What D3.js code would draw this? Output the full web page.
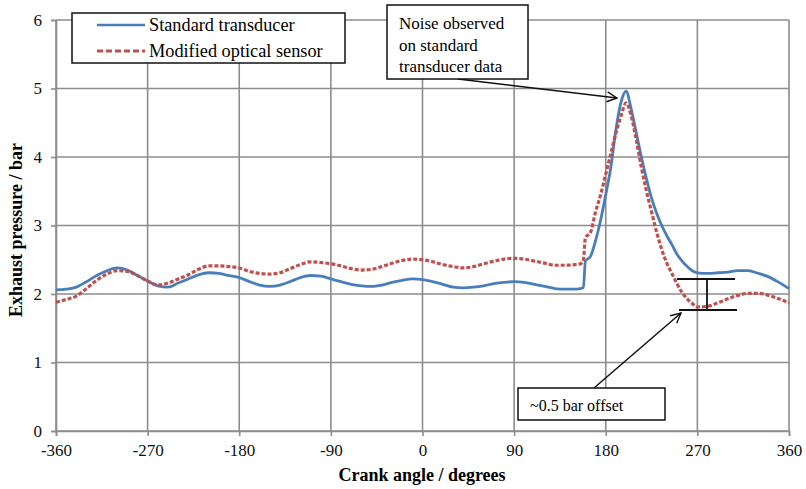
<!DOCTYPE html>
<html><head><meta charset="utf-8">
<script src="https://cdn.jsdelivr.net/npm/d3@7"></script>
<style>body{margin:0;background:#fff}svg{display:block}</style>
</head><body>
<svg id="c" width="806" height="489"></svg>
<script>
const crankAngles = [-360,-350,-340,-330,-320,-310,-300,-290,-280,-270,-260,-250,-240,-230,-220,-210,-200,-190,-180,-170,-160,-150,-140,-130,-120,-110,-100,-90,-80,-70,-60,-50,-40,-30,-20,-10,0,10,20,30,40,50,60,70,80,90,100,110,120,130,140,150,155,158,160,165,170,175,180,185,190,195,200,205,210,215,220,225,230,235,240,245,250,255,260,265,270,280,290,300,310,320,330,340,350,360];
const standardTransducer = [2.06,2.07,2.10,2.18,2.27,2.34,2.38,2.35,2.27,2.19,2.12,2.10,2.16,2.22,2.28,2.31,2.30,2.27,2.24,2.18,2.13,2.11,2.13,2.18,2.24,2.27,2.26,2.22,2.18,2.14,2.12,2.11,2.13,2.17,2.20,2.22,2.21,2.18,2.14,2.10,2.09,2.10,2.12,2.15,2.17,2.18,2.17,2.14,2.11,2.08,2.07,2.07,2.08,2.09,2.48,2.55,2.78,3.08,3.45,3.85,4.40,4.80,4.96,4.70,4.35,4.00,3.68,3.40,3.18,3.00,2.85,2.72,2.58,2.48,2.40,2.34,2.31,2.30,2.31,2.32,2.34,2.34,2.30,2.25,2.17,2.08];
const modifiedOptical = [1.88,1.92,1.97,2.08,2.20,2.29,2.34,2.33,2.27,2.19,2.13,2.16,2.22,2.28,2.36,2.41,2.41,2.40,2.38,2.33,2.30,2.29,2.31,2.37,2.43,2.47,2.46,2.44,2.41,2.37,2.35,2.36,2.40,2.45,2.49,2.51,2.50,2.47,2.43,2.40,2.38,2.40,2.44,2.48,2.51,2.52,2.51,2.48,2.45,2.42,2.42,2.43,2.44,2.50,2.82,2.90,3.20,3.45,3.75,4.05,4.35,4.60,4.79,4.60,4.25,3.85,3.50,3.20,2.90,2.65,2.45,2.30,2.15,2.02,1.93,1.86,1.81,1.82,1.87,1.93,1.98,2.01,2.01,1.98,1.93,1.87];
const xTicks = [-360,-270,-180,-90,0,90,180,270,360];
const yTicks = [0,1,2,3,4,5,6];
const seriesNames = ["Standard transducer","Modified optical sensor"];
const noiseNote = ["Noise observed","on standard","transducer data"];
const offsetNote = "~0.5 bar offset";

const svg = d3.select("#c");
const font = "'Liberation Serif','Times New Roman',serif";
const x = d3.scaleLinear().domain([-360,360]).range([56,789]);
const y = d3.scaleLinear().domain([0,6]).range([431,20]);

// grid
svg.append("g").selectAll("line").data(yTicks).join("line")
  .attr("x1",x(-360)).attr("x2",x(360)).attr("y1",d=>y(d)).attr("y2",d=>y(d))
  .attr("stroke","#8c8c8c").attr("stroke-width",1.6);
svg.append("g").selectAll("line").data(xTicks).join("line")
  .attr("x1",d=>x(d)).attr("x2",d=>x(d)).attr("y1",y(0)).attr("y2",y(6))
  .attr("stroke","#8c8c8c").attr("stroke-width",1.6);

// axes
const xa = svg.append("g").attr("transform",`translate(0,${y(0)})`)
  .call(d3.axisBottom(x).tickValues(xTicks).tickSize(5).tickPadding(8).tickFormat(d=>String(d)));
const ya = svg.append("g").attr("transform",`translate(${x(-360)},0)`)
  .call(d3.axisLeft(y).tickValues(yTicks).tickSize(5).tickPadding(9).tickFormat(d=>String(d)));
[xa,ya].forEach(a=>{
  a.select(".domain").attr("stroke","#8c8c8c").attr("stroke-width",1.6);
  a.selectAll(".tick line").attr("stroke","#8c8c8c").attr("stroke-width",1.6);
  a.selectAll("text").attr("font-family",font).attr("font-size",17).attr("fill","#111");
});

// lines
const pts = (vals)=>crankAngles.map((a,i)=>[a,vals[i]]);
const line = d3.line().x(d=>x(d[0])).y(d=>y(d[1])).curve(d3.curveMonotoneX);
svg.append("path").attr("d",line(pts(standardTransducer))).attr("fill","none")
  .attr("stroke","#4a7ebb").attr("stroke-width",2.8);
svg.append("path").attr("d",line(pts(modifiedOptical))).attr("fill","none")
  .attr("stroke","#c0504d").attr("stroke-width",3.2).attr("stroke-dasharray","4,2");

// axis titles
svg.append("text").attr("x",422).attr("y",481).attr("text-anchor","middle")
  .attr("font-family",font).attr("font-size",18).attr("font-weight","bold").text("Crank angle / degrees");
svg.append("text").attr("transform","translate(22,230) rotate(-90)").attr("text-anchor","middle")
  .attr("font-family",font).attr("font-size",18).attr("font-weight","bold").text("Exhaust pressure / bar");

// legend
const lg = svg.append("g");
lg.append("rect").attr("x",72).attr("y",13).attr("width",273).attr("height",50)
  .attr("fill","#fff").attr("stroke","#111").attr("stroke-width",1.5);
lg.append("line").attr("x1",97).attr("x2",145).attr("y1",25).attr("y2",25)
  .attr("stroke","#4a7ebb").attr("stroke-width",2.6);
lg.append("line").attr("x1",97).attr("x2",145).attr("y1",51).attr("y2",51)
  .attr("stroke","#c0504d").attr("stroke-width",3).attr("stroke-dasharray","6,3");
lg.selectAll("text").data(seriesNames).join("text")
  .attr("x",149).attr("y",(d,i)=>31+i*26).attr("font-family",font).attr("font-size",18.3).text(d=>d);

// arrow marker
const defs = svg.append("defs");
defs.append("marker").attr("id","arr").attr("viewBox","0 0 12 12").attr("refX",11).attr("refY",6)
  .attr("markerWidth",12).attr("markerHeight",12).attr("markerUnits","userSpaceOnUse").attr("orient","auto")
  .append("path").attr("d","M1,1 L11,6 L1,11").attr("fill","none").attr("stroke","#111").attr("stroke-width",1.4);

// annotation 1
svg.append("line").attr("x1",458).attr("y1",79).attr("x2",617).attr("y2",98)
  .attr("stroke","#111").attr("stroke-width",1.5).attr("marker-end","url(#arr)");
svg.append("rect").attr("x",387).attr("y",5).attr("width",141).attr("height",74)
  .attr("fill","#fff").attr("stroke","#111").attr("stroke-width",1.5);
svg.append("g").selectAll("text").data(noiseNote).join("text")
  .attr("x",399).attr("y",(d,i)=>29+i*21.5).attr("font-family",font).attr("font-size",17).text(d=>d);

// bracket
const br = svg.append("g").attr("stroke","#111").attr("stroke-width",1.8);
br.append("line").attr("x1",677).attr("x2",735).attr("y1",279).attr("y2",279);
br.append("line").attr("x1",679).attr("x2",737).attr("y1",310).attr("y2",310);
br.append("line").attr("x1",707).attr("x2",707).attr("y1",279).attr("y2",310);

// annotation 2
svg.append("line").attr("x1",594).attr("y1",388).attr("x2",681).attr("y2",313)
  .attr("stroke","#111").attr("stroke-width",1.5).attr("marker-end","url(#arr)");
svg.append("rect").attr("x",518).attr("y",388).attr("width",147).attr("height",32)
  .attr("fill","#fff").attr("stroke","#111").attr("stroke-width",1.5);
svg.append("text").attr("x",530).attr("y",411).attr("font-family",font).attr("font-size",16).text(offsetNote);
</script>
</body></html>
